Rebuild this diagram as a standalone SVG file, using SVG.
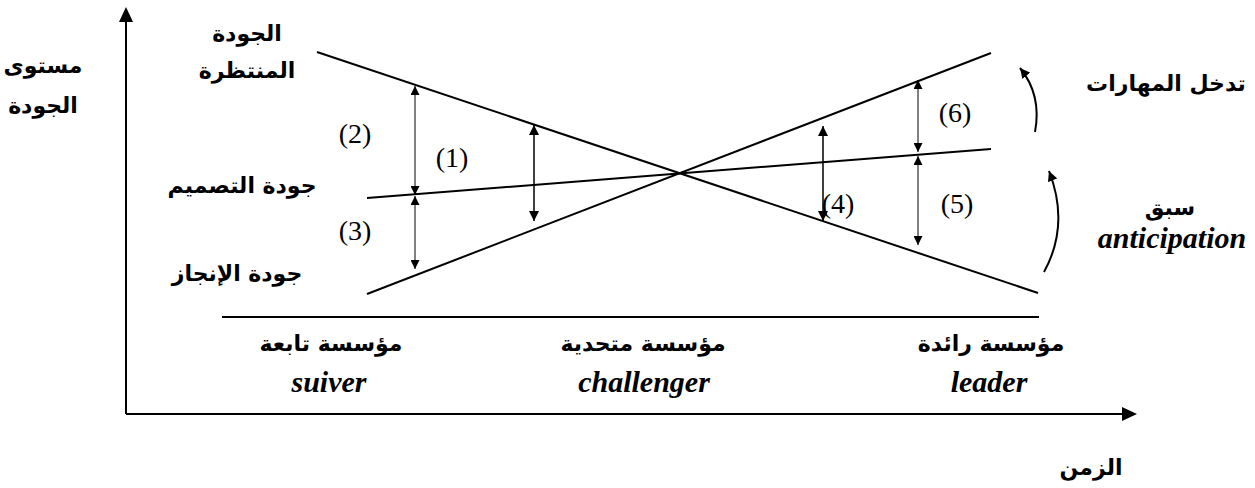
<svg xmlns="http://www.w3.org/2000/svg" width="1255" height="488" viewBox="0 0 1255 488">
<defs>
<marker id="ah" viewBox="0 0 10 10" refX="10" refY="5" markerWidth="10" markerHeight="10" markerUnits="userSpaceOnUse" orient="auto-start-reverse">
<path d="M0,0 L10,5 L0,10 Z" fill="#000"/>
</marker>
<marker id="ahs" viewBox="0 0 10 10" refX="10" refY="5" markerWidth="9" markerHeight="9" markerUnits="userSpaceOnUse" orient="auto-start-reverse">
<path d="M0,0 L10,5 L0,10 Z" fill="#000"/>
</marker>
</defs>
<style>
.ar{font-family:"DejaVu Sans","Noto Sans",sans-serif;font-weight:bold;font-size:22px;fill:#000;text-anchor:middle}
.en{font-family:"Liberation Serif","Times New Roman",serif;font-weight:bold;font-style:italic;font-size:30px;fill:#000;text-anchor:middle}
.num{font-family:"Liberation Serif","Times New Roman",serif;font-size:28px;fill:#000;text-anchor:middle}
.ln{stroke:#000;stroke-width:2;fill:none}
.thin{stroke:#000;stroke-width:1;fill:none}
.mid{stroke:#000;stroke-width:1.5;fill:none}
</style>
<rect width="1255" height="488" fill="#fff"/>
<g id="axes">
<line x1="126" y1="414" x2="126" y2="22" class="ln"/>
<path d="M119,22 L126,7 L133,22 Z" fill="#000"/>
<line x1="126" y1="414" x2="1122" y2="414" class="ln"/>
<path d="M1122,407 L1137,414 L1122,421 Z" fill="#000"/>
<line x1="222" y1="317" x2="1039" y2="317" class="ln"/>
</g>
<g id="connectors">
<line id="expected" x1="317" y1="52" x2="1038" y2="293" class="ln"/>
<line id="achieved" x1="367" y1="294" x2="991" y2="53" class="ln"/>
<line id="design" x1="367" y1="198" x2="991" y2="149" class="ln"/>
<line x1="415" y1="86" x2="415" y2="195" class="thin" marker-start="url(#ahs)" marker-end="url(#ahs)"/>
<line x1="415" y1="196" x2="415" y2="269" class="thin" marker-start="url(#ahs)" marker-end="url(#ahs)"/>
<line x1="534" y1="125" x2="534" y2="221" class="mid" marker-start="url(#ah)" marker-end="url(#ah)"/>
<line x1="823" y1="126" x2="823" y2="221" class="mid" marker-start="url(#ah)" marker-end="url(#ah)"/>
<line x1="918" y1="80" x2="918" y2="152" class="thin" marker-start="url(#ahs)" marker-end="url(#ahs)"/>
<line x1="918" y1="156" x2="918" y2="245" class="thin" marker-start="url(#ahs)" marker-end="url(#ahs)"/>
<path d="M1035,132 Q1042,95 1020,68" class="ln" marker-end="url(#ah)"/>
<path d="M1044,272 Q1070,225 1049,171" class="ln" marker-end="url(#ah)"/>
</g>
<g id="numbers">
<text x="355" y="143" class="num">(2)</text>
<text x="452" y="167" class="num">(1)</text>
<text x="355" y="240" class="num">(3)</text>
<text x="838" y="213" class="num">(4)</text>
<text x="957" y="213" class="num">(5)</text>
<text x="955" y="122" class="num">(6)</text>
</g>
<g id="labels">
<text x="43" y="73" class="ar">مستوى</text>
<text x="43" y="113" class="ar">الجودة</text>
<text x="247" y="41" class="ar">الجودة</text>
<text x="247" y="78" class="ar">المنتظرة</text>
<text x="242" y="193" class="ar">جودة التصميم</text>
<text x="237" y="281" class="ar">جودة الإنجاز</text>
<text x="1166" y="91" class="ar">تدخل المهارات</text>
<text x="1170" y="215" class="ar">سبق</text>
<text x="1172" y="248" class="en">anticipation</text>
<text x="1091" y="475" class="ar">الزمن</text>
</g>
<g id="firms">
<text x="331" y="351" class="ar">مؤسسة تابعة</text>
<text x="329" y="392" class="en">suiver</text>
<text x="643" y="351" class="ar">مؤسسة متحدية</text>
<text x="644" y="392" class="en">challenger</text>
<text x="991" y="351" class="ar">مؤسسة رائدة</text>
<text x="989" y="392" class="en">leader</text>
</g>
</svg>
